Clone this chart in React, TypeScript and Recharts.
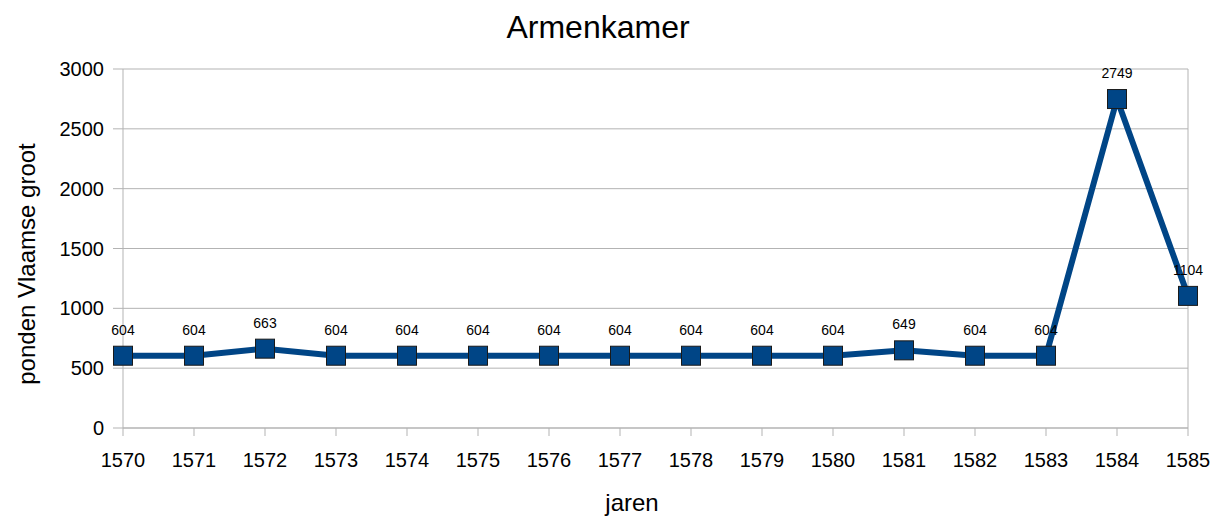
import React from "react";
import { LineChart, Line, XAxis, YAxis, CartesianGrid, ReferenceLine, LabelList } from "recharts";

const years = ["1570","1571","1572","1573","1574","1575","1576","1577","1578","1579","1580","1581","1582","1583","1584","1585"];
const values = [604,604,663,604,604,604,604,604,604,604,604,649,604,604,2749,1104];
const yTicks = [0,500,1000,1500,2000,2500,3000];
const title = "Armenkamer";
const xTitle = "jaren";
const yTitle = "ponden Vlaamse groot";

const data = years.map((y, i) => ({ year: y, value: values[i] }));

const COLOR = "#004586";
const GRID = "#b3b3b3";
const FONT = "'Liberation Sans', Arial, sans-serif";

const SquareDot = (props: any) => {
  const { cx, cy } = props;
  if (cx == null || cy == null) return null;
  return <rect x={cx - 9.5} y={cy - 9.5} width={19} height={19} fill={COLOR} stroke="#1a1a1a" strokeWidth={1} />;
};

const ValueLabel = (props: any) => {
  const { x, y, value } = props;
  return (
    <text x={x} y={y - 21} textAnchor="middle" fontSize={14} fill="#000" fontFamily={FONT}>
      {value}
    </text>
  );
};

export default function App() {
  return (
    <div style={{ position: "absolute", left: 0, top: 0, width: 1221, height: 517, background: "#fff", fontFamily: FONT }}>
      <LineChart width={1221} height={517} data={data} margin={{ top: 69, right: 33, left: 0, bottom: 0 }}>
        <CartesianGrid vertical={false} stroke={GRID} strokeWidth={1} />
        <ReferenceLine x="1585" stroke={GRID} strokeWidth={1} />
        <XAxis
          dataKey="year"
          height={89}
          padding={{ left: 0, right: 0 }}
          axisLine={{ stroke: GRID }}
          tickLine={{ stroke: GRID }}
          tickSize={8}
          tickMargin={17}
          interval={0}
          tick={{ fill: "#000", fontSize: 20, fontFamily: FONT }}
        />
        <YAxis
          width={123}
          domain={[0, 3000]}
          ticks={yTicks}
          axisLine={{ stroke: GRID }}
          tickLine={{ stroke: GRID }}
          tickSize={10}
          tickMargin={9}
          tick={{ fill: "#000", fontSize: 20, fontFamily: FONT }}
        />
        <Line
          type="linear"
          dataKey="value"
          stroke={COLOR}
          strokeWidth={6}
          dot={<SquareDot />}
          activeDot={false}
          isAnimationActive={false}
        >
          <LabelList dataKey="value" content={<ValueLabel />} />
        </Line>
      </LineChart>
      <svg width={1221} height={517} style={{ position: "absolute", left: 0, top: 0, pointerEvents: "none" }}>
        <text x={598} y={38} textAnchor="middle" fontSize={32} fill="#000" fontFamily={FONT}>{title}</text>
        <text x={632} y={511} textAnchor="middle" fontSize={24} fill="#000" fontFamily={FONT}>{xTitle}</text>
        <text x={35} y={264} textAnchor="middle" fontSize={24} fill="#000" fontFamily={FONT} transform="rotate(-90 35 264)">{yTitle}</text>
      </svg>
    </div>
  );
}
